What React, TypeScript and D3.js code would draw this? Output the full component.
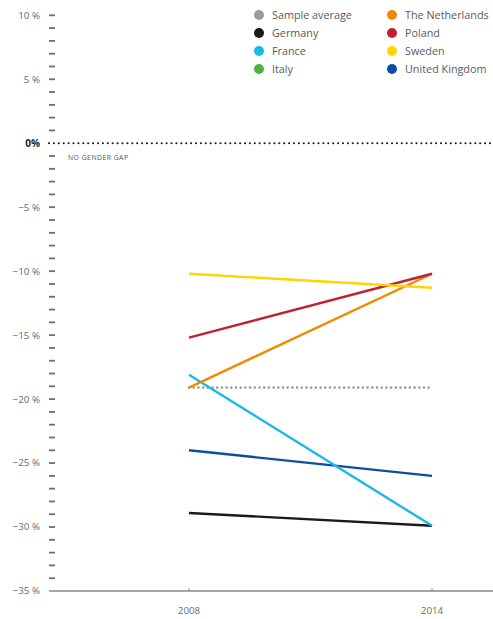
import React from "react";
import * as d3 from "d3";

const years = ["2008", "2014"];
const seriesNames = ["Sample average", "Germany", "France", "Italy", "The Netherlands", "Poland", "Sweden", "United Kingdom"];
const sampleAverage = [-19.1, -19.1];
const germany = [-28.9, -29.9];
const france = [-18.1, -29.9];
const netherlands = [-19.1, -10.2];
const poland = [-15.2, -10.2];
const sweden = [-10.2, -11.3];
const unitedKingdom = [-24.0, -26.0];
const majorTicks = [10, 5, 0, -5, -10, -15, -20, -25, -30, -35];

const colors: Record<string, string> = {
  "Sample average": "#9b9b9b",
  Germany: "#1a1a1a",
  France: "#1bb7ea",
  Italy: "#4db23c",
  "The Netherlands": "#f28a00",
  Poland: "#c2202f",
  Sweden: "#ffd400",
  "United Kingdom": "#0b4fa3",
};

const lines: { name: string; values: number[] }[] = [
  { name: "Germany", values: germany },
  { name: "United Kingdom", values: unitedKingdom },
  { name: "France", values: france },
  { name: "The Netherlands", values: netherlands },
  { name: "Poland", values: poland },
  { name: "Sweden", values: sweden },
];

const W = 493;
const H = 619;

export default function App() {
  const y = d3.scaleLinear().domain([-35, 10]).range([591, 15.3]);
  const x = d3.scalePoint<string>().domain(years).range([189, 432]);
  const line = d3
    .line<number>()
    .x((_, i) => x(years[i]) as number)
    .y((v) => y(v));
  const minorTicks = d3.range(-34, 11, 1).filter((v) => v !== 0);
  const font = "'Open Sans', 'DejaVu Sans', sans-serif";
  const fmt = (v: number) => (v === 0 ? "0%" : (v < 0 ? "\u2212" + Math.abs(v) : String(v)) + " %");
  const legendRows = 4;

  return (
    <svg
      width={W}
      height={H}
      style={{ position: "absolute", left: 0, top: 0 }}
      fontFamily={font}
    >
      <rect width={W} height={H} fill="#fff" />
      {minorTicks.map((v) => (
        <line key={v} x1={49} x2={55} y1={y(v)} y2={y(v)} stroke="#6e6e6e" strokeWidth={1.8} />
      ))}
      {majorTicks.map((v) => (
        <text
          key={v}
          x={40}
          y={y(v)}
          dy="0.35em"
          textAnchor="end"
          fontSize={v === 0 ? 10 : 9.8}
          fontWeight={v === 0 ? 700 : 400}
          fill={v === 0 ? "#222" : "#6b6b6b"}
        >
          {fmt(v)}
        </text>
      ))}
      <line
        x1={49}
        x2={W}
        y1={y(0)}
        y2={y(0)}
        stroke="#222"
        strokeWidth={2.2}
        strokeDasharray="0 4.9"
        strokeLinecap="round"
      />
      <text x={68} y={y(0) + 17} fontSize={6.8} fill="#555" letterSpacing={0.5}>
        NO GENDER GAP
      </text>
      <line x1={49} x2={W} y1={y(-35)} y2={y(-35)} stroke="#8a8a8a" strokeWidth={1.4} />
      {years.map((yr) => (
        <g key={yr}>
          <line x1={x(yr)} x2={x(yr)} y1={y(-35) - 2.5} y2={y(-35)} stroke="#777" strokeWidth={1} />
          <text x={x(yr)} y={611} dy="0.35em" textAnchor="middle" fontSize={9.8} fill="#6b6b6b">
            {yr}
          </text>
        </g>
      ))}
      <path
        d={line(sampleAverage) || ""}
        fill="none"
        stroke={colors["Sample average"]}
        strokeWidth={2.6}
        strokeDasharray="0 4.7"
        strokeLinecap="round"
      />
      {lines.map((s) => (
        <path key={s.name} d={line(s.values) || ""} fill="none" stroke={colors[s.name]} strokeWidth={2.4} />
      ))}
      {seriesNames.map((name, i) => {
        const col = Math.floor(i / legendRows);
        const row = i % legendRows;
        const cx = col === 0 ? 259 : 392;
        const cy = 15 + row * 18;
        return (
          <g key={name}>
            <circle cx={cx} cy={cy} r={5} fill={colors[name]} />
            <text x={cx + 13} y={cy} dy="0.35em" fontSize={10.8} fill="#5a5a5a">
              {name}
            </text>
          </g>
        );
      })}
    </svg>
  );
}
